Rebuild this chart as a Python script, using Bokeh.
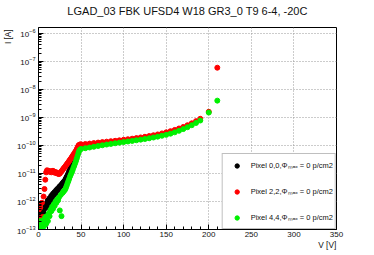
from bokeh.plotting import figure
from bokeh.models import (Range1d, SingleIntervalTicker, LogTicker, Title,
                          Legend, LegendItem)
from bokeh.embed import file_html
from bokeh.resources import INLINE

# ---------------- data ----------------
title_text = "LGAD_03 FBK UFSD4 W18 GR3_0 T9 6-4, -20C"
x_label = "V [V]"
y_label = "I [A]"
series_names = ["Pixel 0,0,\u03a6\u2098\u2090\u2093 = 0 p/cm2",
                "Pixel 2,2,\u03a6\u2098\u2090\u2093 = 0 p/cm2",
                "Pixel 4,4,\u03a6\u2098\u2090\u2093 = 0 p/cm2"]
series_colors = ["#000000", "#ff0000", "#00f000"]

v_low = [0, 1, 2, 3, 4, 5, 6, 7, 8, 9, 10, 11, 12, 13, 14, 15, 16, 17, 18, 19,
         20, 21, 22, 23, 24, 25, 26, 27, 28, 29, 30, 31, 32, 33, 34, 35, 36, 37,
         38, 39, 40, 41, 42, 43, 44, 45, 46, 47, 48, 49, 50]
v_high = [55, 60, 65, 70, 75, 80, 85, 90, 95, 100, 105, 110, 115, 120, 125, 130,
          135, 140, 145, 150, 155, 160, 165, 170, 175, 180, 185, 190, 200, 210]

i_pix00 = [1.5e-13, 3e-13, 1.2e-13, 2.5e-13, 4e-13, 2e-13, 5e-13, 3.5e-13, 7e-13,
           6e-13, 9e-13, 1.1e-12, 8e-13, 1.3e-12, 1.1e-12, 1.6e-12, 1.4e-12,
           1.9e-12, 1.7e-12, 2.2e-12, 2.0e-12, 2.6e-12, 2.4e-12, 3.0e-12, 2.9e-12,
           3.5e-12, 3.6e-12, 4.0e-12, 4.4e-12, 4.8e-12, 5.2e-12, 5.6e-12, 6.5e-12,
           7.5e-12, 8.5e-12, 1.0e-11, 1.2e-11, 1.4e-11, 1.6e-11, 1.9e-11, 2.1e-11,
           2.3e-11, 2.5e-11, 3.0e-11, 3.6e-11, 4.3e-11, 5.0e-11, 6.5e-11, 8.0e-11,
           9.0e-11, 9.5e-11]

i_pix22_low = [4.8e-13, 2.5e-13, 6e-13, 1.8e-13, 9e-13, 2.8e-13, 1.5e-12, 2.8e-12,
               6e-12, 1.1e-11, 1.3e-11, 1.2e-11, 1.25e-11, 1.15e-11, 1.2e-11,
               1.1e-11, 1.2e-11, 1.25e-11, 1.1e-11, 1.15e-11, 1.05e-11, 1.1e-11,
               1.0e-11, 1.0e-11, 9.5e-12, 1.0e-11, 1.1e-11, 1.2e-11, 1.3e-11,
               1.45e-11, 1.6e-11, 1.7e-11, 1.9e-11, 2.1e-11, 2.3e-11, 2.5e-11,
               2.8e-11, 3.1e-11, 3.4e-11, 3.8e-11, 4.2e-11, 4.7e-11, 5.2e-11,
               5.8e-11, 6.5e-11, 7.5e-11, 8.7e-11, 1.0e-10, 1.07e-10, 1.08e-10,
               1.1e-10]
i_pix22_high = [1.13e-10, 1.17e-10, 1.22e-10, 1.27e-10, 1.32e-10, 1.37e-10,
                1.42e-10, 1.47e-10, 1.53e-10, 1.6e-10, 1.67e-10, 1.75e-10,
                1.84e-10, 1.94e-10, 2.05e-10, 2.18e-10, 2.32e-10, 2.48e-10,
                2.7e-10, 2.95e-10, 3.25e-10, 3.6e-10, 4.05e-10, 4.6e-10, 5.3e-10,
                6.2e-10, 7.4e-10, 9.0e-10, 1.6e-9, 6.0e-8]

i_pix44_low = [1.5e-13, 1.0e-13, 2.0e-13, 1.2e-13, 1.8e-13, 1.1e-13, 2.2e-13,
               1.4e-13, 2.8e-13, 1.6e-13, 3.0e-13, 2.0e-13, 3.8e-13, 3.0e-13,
               5.0e-13, 4.5e-13, 6.5e-13, 5.5e-13, 8.0e-13, 7.0e-13, 1.0e-12,
               9.0e-13, 1.2e-12, 1.1e-12, 1.4e-12, 4.8e-13, 1.7e-12, 3.0e-13,
               2.0e-12, 2.2e-12, 2.4e-12, 2.6e-12, 3.0e-12, 3.6e-12, 4.4e-12,
               5.3e-12, 6.4e-12, 7.8e-12, 9.2e-12, 1.1e-11, 1.3e-11, 1.6e-11,
               1.9e-11, 2.3e-11, 2.8e-11, 3.5e-11, 4.4e-11, 5.6e-11, 6.6e-11,
               7.2e-11, 7.5e-11]
i_pix44_high = [8.0e-11, 8.5e-11, 9.0e-11, 9.6e-11, 1.02e-10, 1.08e-10, 1.14e-10,
                1.2e-10, 1.26e-10, 1.32e-10, 1.39e-10, 1.46e-10, 1.54e-10,
                1.62e-10, 1.71e-10, 1.81e-10, 1.93e-10, 2.07e-10, 2.23e-10,
                2.4e-10, 2.65e-10, 2.95e-10, 3.35e-10, 3.85e-10, 4.5e-10, 5.3e-10,
                6.4e-10, 7.8e-10, 1.5e-9, 4.0e-9]

x_min, x_max = 0, 350
y_min, y_max = 1e-13, 10 ** -5.786

# ---------------- figure ----------------
FONT = "Liberation Sans"
PAD = "\u00a0" * 8   # shifts the end-anchored axis labels so they end at the frame corner
p = figure(width=370, height=252, x_range=Range1d(x_min, x_max),
           y_range=Range1d(y_min, y_max), y_axis_type="log",
           output_backend="svg", toolbar_location=None,
           min_border_left=37, min_border_right=34,
           min_border_top=27, min_border_bottom=23)
p.title = None
# a thin spacer title next to the frame lifts the real title upward
p.add_layout(Title(text="\u00a0", text_font_size="8px", standoff=0), "above")
p.add_layout(Title(text=title_text, align="center",
                   text_font=FONT, text_font_size="11px",
                   text_font_style="normal", text_color="#111111",
                   standoff=0), "above")
p.background_fill_color = "white"
p.border_fill_color = "white"
p.outline_line_color = "black"
p.outline_line_width = 1

r0 = p.scatter(v_low, i_pix00, size=5, color=series_colors[0])
r1 = p.scatter(v_low + v_high, i_pix22_low + i_pix22_high, size=5,
               color=series_colors[1])
r2 = p.scatter(v_low + v_high, i_pix44_low + i_pix44_high, size=5,
               color=series_colors[2])

# axes
xa = p.xaxis[0]
xa.ticker = SingleIntervalTicker(interval=50, num_minor_ticks=5)
ya = p.yaxis[0]
ya.ticker = LogTicker(num_minor_ticks=10)
for ax in (xa, ya):
    ax.axis_line_color = "black"
    ax.major_tick_line_color = "black"
    ax.minor_tick_line_color = "black"
    ax.major_tick_in = 5
    ax.major_tick_out = 0
    ax.minor_tick_in = 3
    ax.minor_tick_out = 0
    ax.major_label_text_font = FONT
    ax.major_label_text_font_size = "8px"
    ax.major_label_text_color = "#111111"
    ax.axis_label_text_font = FONT
    ax.axis_label_text_font_size = "8.3px"
    ax.axis_label_text_font_style = "normal"
    ax.axis_label_text_color = "#111111"
    ax.axis_label_align = "end"
xa.major_label_standoff = 2
ya.major_label_standoff = 3
xa.axis_label = x_label + PAD
ya.axis_label = y_label + PAD
xa.axis_label_standoff = 0
ya.axis_label_standoff = 1

for g in (p.xgrid[0], p.ygrid[0]):
    g.grid_line_color = "#999999"
    g.grid_line_dash = "1 2"
    g.grid_line_width = 1

legend = Legend(items=[LegendItem(label=series_names[0], renderers=[r0]),
                       LegendItem(label=series_names[1], renderers=[r1]),
                       LegendItem(label=series_names[2], renderers=[r2])],
                location="bottom_right", margin=0, padding=2, spacing=8,
                glyph_width=24, glyph_height=11, label_height=18,
                label_standoff=2, label_text_font=FONT,
                label_text_font_size="7.5px", label_text_color="#111111",
                label_text_baseline="middle",
                border_line_color="#808080", border_line_width=1,
                background_fill_color="white", background_fill_alpha=1.0)
p.add_layout(legend)

open("out.html", "w").write(file_html(p, INLINE))
